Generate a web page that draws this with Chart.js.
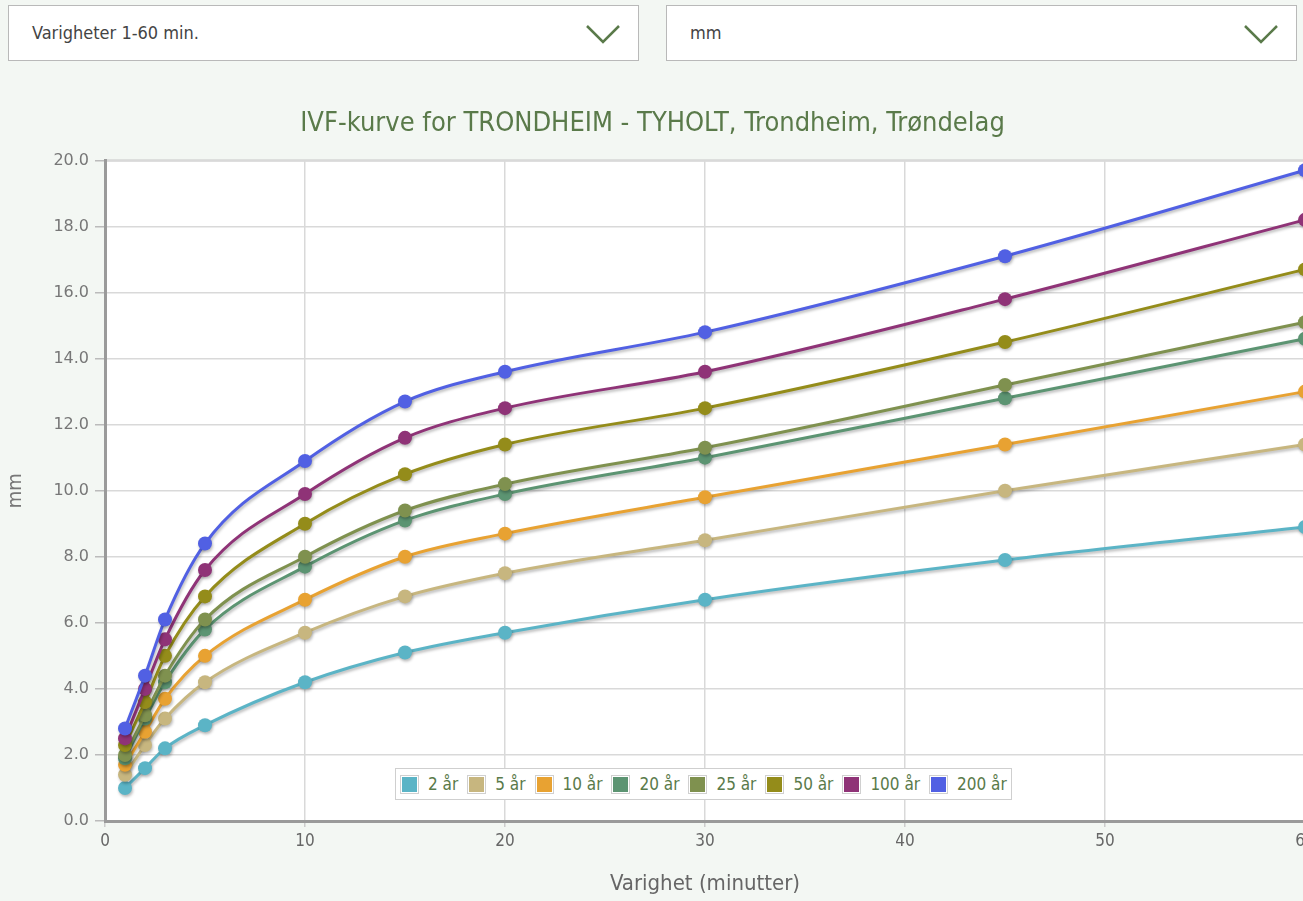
<!DOCTYPE html>
<html lang="no">
<head>
<meta charset="utf-8">
<script src="https://cdn.jsdelivr.net/npm/chart.js@4.4.1/dist/chart.umd.min.js"></script>
<style>
  html, body { margin: 0; padding: 0; background: #f3f7f3; overflow: hidden; }
  body { width: 1303px; height: 901px; position: relative; font-family: "Liberation Sans Narrow", "DejaVu Sans Condensed", sans-serif; }
  .velg {
    position: absolute; top: 5px; height: 56px; width: 631px; background: #fff;
    border: 1px solid #b9b9b9; box-sizing: border-box; color: #444; font-size: 18px;
    line-height: 54px; padding-left: 23px;
  }
  .velg svg { position: absolute; right: 17px; top: 17px; }
  #boks { position: absolute; left: 0; top: 70px; width: 1325px; height: 831px; }
  #legende {
    position: absolute; left: 395px; top: 768px; height: 32px; background: #fff;
    border: 1px solid #cfcfcf; box-sizing: border-box; display: flex; align-items: center;
    padding: 0 4px; font-size: 17px; color: #5a7a4a;
  }
  #legende .item { display: flex; align-items: center; margin-right: 9px; }
  #legende .item:last-child { margin-right: 0; }
  #legende .farge { width: 19px; height: 19px; border: 1px solid #d0d0d0; box-sizing: border-box; padding: 1px; margin-right: 9px; background: #fff; }
  #legende .farge span { display: block; width: 100%; height: 100%; }
</style>
</head>
<body>
<div class="velg" style="left:8px">Varigheter 1-60 min.
  <svg width="36" height="22" viewBox="0 0 36 22"><polyline points="2,3 18,19 34,3" fill="none" stroke="#5a7a4a" stroke-width="2.5"/></svg>
</div>
<div class="velg" style="left:666px">mm
  <svg width="36" height="22" viewBox="0 0 36 22"><polyline points="2,3 18,19 34,3" fill="none" stroke="#5a7a4a" stroke-width="2.5"/></svg>
</div>
<div id="boks"><canvas id="ivf"></canvas></div>
<div id="legende"></div>

<script>
// varighet i minutter
const varigheter = [1, 2, 3, 5, 10, 15, 20, 30, 45, 60];
const gjentaksintervall = ["2 år", "5 år", "10 år", "20 år", "25 år", "50 år", "100 år", "200 år"];
const farger = ["#5bb4c6", "#c7b67f", "#e8a232", "#5c9472", "#7f914f", "#948c1a", "#8f3377", "#5160e3"];

// nedbør (mm) per gjentaksintervall
const aar2   = [1.0, 1.6, 2.2, 2.9, 4.2, 5.1, 5.7, 6.7, 7.9, 8.9];
const aar5   = [1.4, 2.3, 3.1, 4.2, 5.7, 6.8, 7.5, 8.5, 10.0, 11.4];
const aar10  = [1.7, 2.7, 3.7, 5.0, 6.7, 8.0, 8.7, 9.8, 11.4, 13.0];
const aar20  = [1.9, 3.1, 4.2, 5.8, 7.7, 9.1, 9.9, 11.0, 12.8, 14.6];
const aar25  = [2.0, 3.2, 4.4, 6.1, 8.0, 9.4, 10.2, 11.3, 13.2, 15.1];
const aar50  = [2.3, 3.6, 5.0, 6.8, 9.0, 10.5, 11.4, 12.5, 14.5, 16.7];
const aar100 = [2.5, 4.0, 5.5, 7.6, 9.9, 11.6, 12.5, 13.6, 15.8, 18.2];
const aar200 = [2.8, 4.4, 6.1, 8.4, 10.9, 12.7, 13.6, 14.8, 17.1, 19.7];
const serier = [aar2, aar5, aar10, aar20, aar25, aar50, aar100, aar200];

const yTicks = [0, 2, 4, 6, 8, 10, 12, 14, 16, 18, 20];
const xTicks = [0, 10, 20, 30, 40, 50, 60];

const smal = '"Liberation Sans Narrow", "DejaVu Sans Condensed", sans-serif';

// hvit bakgrunn i plottet + skygge på kurvene
const plottBakgrunn = {
  id: "plottBakgrunn",
  beforeDraw(chart) {
    const { ctx, chartArea: a } = chart;
    ctx.save();
    ctx.fillStyle = "#fff";
    ctx.fillRect(a.left, a.top, a.right - a.left, a.bottom - a.top);
    ctx.strokeStyle = "#c8c8c8";
    ctx.lineWidth = 2;
    ctx.beginPath();
    ctx.moveTo(a.left, a.top);
    ctx.lineTo(a.right, a.top);
    ctx.stroke();
    ctx.restore();
  },
  beforeDatasetsDraw(chart) {
    const ctx = chart.ctx;
    ctx.save();
    ctx.shadowColor = "rgba(0,0,0,0.28)";
    ctx.shadowBlur = 3;
    ctx.shadowOffsetX = 1;
    ctx.shadowOffsetY = 2;
  },
  afterDatasetsDraw(chart) {
    chart.ctx.restore();
  }
};

const datasets = serier.map((verdier, i) => ({
  label: gjentaksintervall[i],
  data: verdier.map((v, j) => ({ x: varigheter[j], y: v })),
  borderColor: farger[i],
  backgroundColor: farger[i],
  pointBackgroundColor: farger[i],
  pointBorderWidth: 0,
  pointRadius: 7,
  borderWidth: 3,
  cubicInterpolationMode: "monotone",
  order: serier.length - i,
  clip: false
}));

new Chart(document.getElementById("ivf"), {
  type: "line",
  data: { datasets },
  options: {
    responsive: true,
    maintainAspectRatio: false,
    animation: false,
    layout: { padding: { left: 0, right: 20, top: 0, bottom: 0 } },
    plugins: {
      legend: { display: false },
      tooltip: { enabled: false },
      title: {
        display: true,
        text: "IVF-kurve for TRONDHEIM - TYHOLT, Trondheim, Trøndelag",
        color: "#5a7a4a",
        font: { family: smal, size: 27, weight: "normal" },
        padding: { top: 38, bottom: 20 }
      }
    },
    scales: {
      x: {
        type: "linear",
        min: 0,
        max: 60,
        afterBuildTicks: s => { s.ticks = xTicks.map(v => ({ value: v })); },
        afterFit: s => { s.height = 80; },
        ticks: { color: "#666", font: { family: smal, size: 17 }, padding: 4, maxRotation: 0 },
        grid: { color: "#d9d9d9", lineWidth: 1.5, tickLength: 6, tickColor: "#ccc" },
        border: { color: "#9a9a9a", width: 3 },
        title: { display: true, text: "Varighet (minutter)", color: "#666", font: { family: smal, size: 22 }, padding: { top: 11 } }
      },
      y: {
        min: 0,
        max: 20,
        afterBuildTicks: s => { s.ticks = yTicks.map(v => ({ value: v })); },
        afterFit: s => { s.width = 105; },
        ticks: { color: "#777", font: { family: "DejaVu Sans", size: 16 }, padding: 6, callback: v => v.toFixed(1) },
        grid: { color: "#d9d9d9", lineWidth: 1.5, tickLength: 10, tickColor: "#bbb" },
        border: { color: "#9a9a9a", width: 3 },
        title: { display: true, text: "mm", color: "#777", font: { family: smal, size: 20 }, padding: { bottom: 10 } }
      }
    }
  },
  plugins: [plottBakgrunn]
});

// legende inne i plottet
const legende = document.getElementById("legende");
gjentaksintervall.forEach((navn, i) => {
  const el = document.createElement("div");
  el.className = "item";
  el.innerHTML = `<div class="farge"><span style="background:${farger[i]}"></span></div>${navn}`;
  legende.appendChild(el);
});
</script>
</body>
</html>
